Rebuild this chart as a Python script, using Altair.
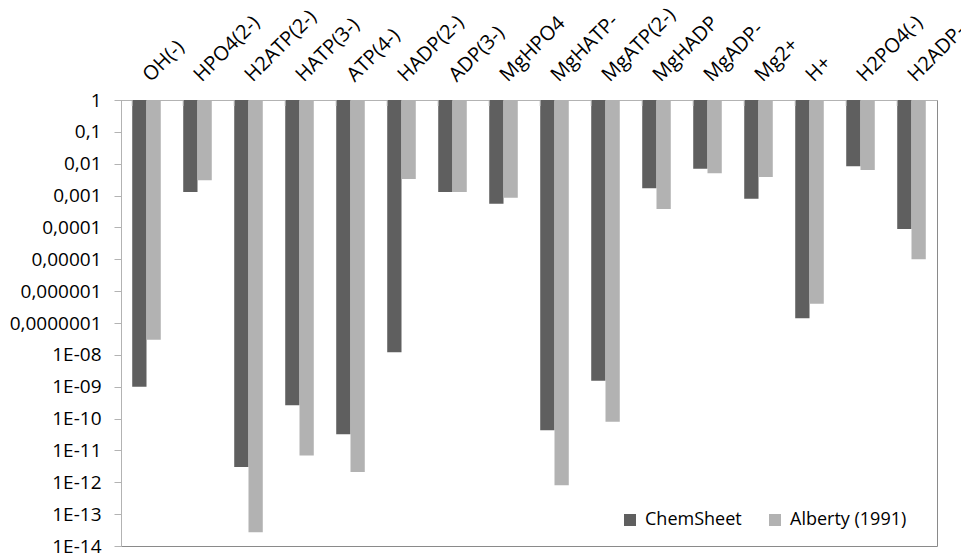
import altair as alt
import pandas as pd

# Species and equilibrium concentrations from the two sources
species = [
    "OH(-)", "HPO4(2-)", "H2ATP(2-)", "HATP(3-)", "ATP(4-)", "HADP(2-)",
    "ADP(3-)", "MgHPO4", "MgHATP-", "MgATP(2-)", "MgHADP", "MgADP-",
    "Mg2+", "H+", "H2PO4(-)", "H2ADP-",
]
chemsheet = [
    1.0e-9, 1.3e-3, 3.0e-12, 2.6e-10, 3.2e-11, 1.2e-8,
    1.3e-3, 5.5e-4, 4.3e-11, 1.55e-9, 1.7e-3, 6.9e-3,
    7.9e-4, 1.4e-7, 8.3e-3, 8.9e-5,
]
alberty = [
    3.0e-8, 3.0e-3, 2.7e-14, 6.9e-12, 2.1e-12, 3.3e-3,
    1.3e-3, 8.5e-4, 8.1e-13, 7.9e-11, 3.8e-4, 5.0e-3,
    3.8e-3, 4.0e-7, 6.3e-3, 1.0e-5,
]
sources = ["ChemSheet", "Alberty (1991)"]
colors = ["#5f5f5f", "#b2b2b2"]

tick_values = [10.0 ** -k for k in range(15)]
tick_labels = ["1", "0,1", "0,01", "0,001", "0,0001", "0,00001", "0,000001",
               "0,0000001"] + ["1E-%02d" % k for k in range(8, 15)]

rows = []
for i, s in enumerate(species):
    rows.append({"species": s, "source": sources[0], "value": chemsheet[i]})
    rows.append({"species": s, "source": sources[1], "value": alberty[i]})
df = pd.DataFrame(rows)
ticks_df = pd.DataFrame({"species": species})

label_array = "[" + ",".join("'%s'" % t for t in tick_labels) + "]"
grey = "#b3b3b3"

x_scale = alt.Scale(domain=species, paddingInner=0.44, paddingOuter=0.22)

bars = alt.Chart(df).mark_bar().encode(
    x=alt.X("species:N", scale=x_scale, sort=species, title=None,
            axis=alt.Axis(orient="top", labelAngle=-45, labelAlign="left",
                          labelBaseline="middle", labelPadding=22,
                          ticks=False, domainColor=grey, labelFontSize=20,
                          labelColor="#000000")),
    xOffset=alt.XOffset("source:N", sort=sources, scale=alt.Scale(domain=sources)),
    y=alt.Y("value:Q", title=None,
            scale=alt.Scale(type="log", domain=[1e-14, 1], nice=False),
            axis=alt.Axis(values=tick_values, grid=False,
                          labelExpr=label_array + "[round(-log(datum.value)/LN10)]",
                          domainColor=grey, tickColor=grey, tickSize=7,
                          labelPadding=13, labelFontSize=19, labelColor="#000000")),
    y2=alt.datum(1),
    color=alt.Color("source:N", sort=sources,
                    scale=alt.Scale(domain=sources, range=colors),
                    legend=alt.Legend(title=None, orient="none", direction="horizontal",
                                      legendX=500, legendY=411, symbolType="square",
                                      symbolSize=144, symbolStrokeWidth=0,
                                      labelFontSize=18, labelColor="#000000",
                                      columnPadding=24, labelOffset=6)),
)

# Category separators hanging below the top axis line
sep = alt.Chart(ticks_df).mark_rule(color=grey, strokeWidth=1).encode(
    x=alt.X("species:N", scale=x_scale, sort=species, bandPosition=0, title=None),
    y=alt.value(0),
    y2=alt.value(6),
)

chart = alt.layer(bars, sep).properties(
    width=816,
    height=446,
    autosize=alt.AutoSizeParams(type="none"),
    padding={"left": 121, "top": 100, "right": 24, "bottom": 10},
).configure(
    font="Open Sans",
).configure_view(
    stroke="#8a8a8a",
    strokeWidth=1,
)

chart.save("out.html", embed_options={"renderer": "svg", "actions": False})
